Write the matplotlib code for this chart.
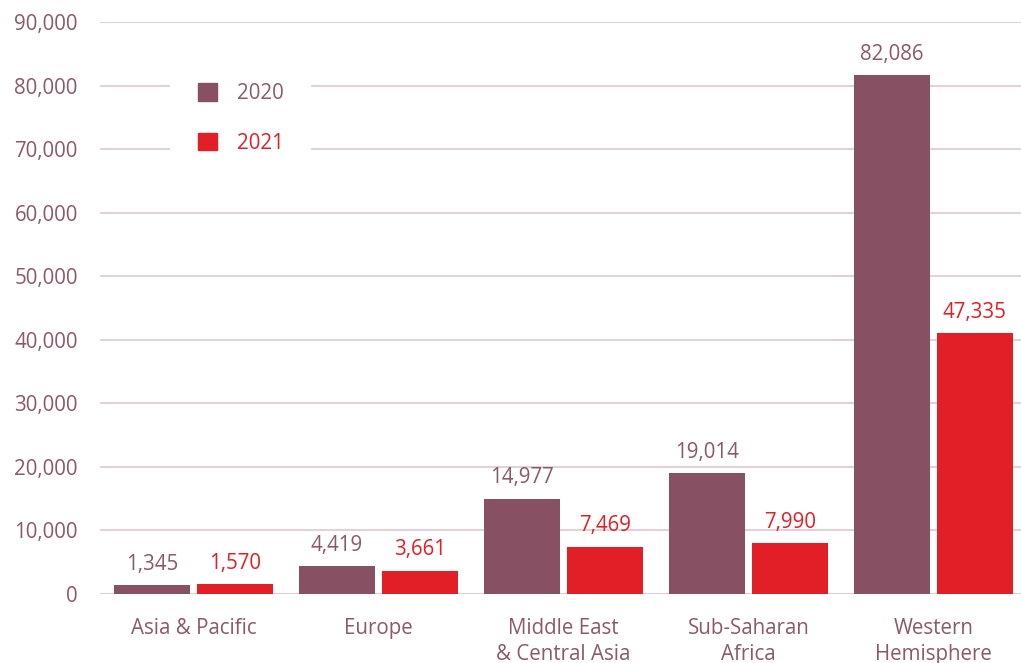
import matplotlib.pyplot as plt
import matplotlib.patches as mpatches
import numpy as np

plt.rcParams['font.family'] = ['Open Sans', 'DejaVu Sans']

regions = ['Asia & Pacific', 'Europe', 'Middle East\n& Central Asia',
           'Sub-Saharan\nAfrica', 'Western\nHemisphere']
labels_2020 = [1345, 4419, 14977, 19014, 82086]
labels_2021 = [1570, 3661, 7469, 7990, 47335]
# bar heights as drawn in the original (the last 2021 bar is shorter than its label)
heights_2020 = [1345, 4419, 14977, 19014, 81700]
heights_2021 = [1570, 3661, 7469, 7990, 41100]
yticks = [0, 10000, 20000, 30000, 40000, 50000, 60000, 70000, 80000, 90000]

c2020 = '#875163'
c2021 = '#e21f26'
txt2020 = '#8b5a6a'
grid_c = '#e0cdd3'

fig = plt.figure(figsize=(10.21, 6.63), dpi=100)
ax = fig.add_axes([100 / 1021, 1 - 594 / 663, 1 - 100 / 1021, (594 - 22.3) / 663])

x = np.arange(len(regions))
off = 0.224
w = 0.41
b1 = ax.bar(x - off, heights_2020, w, color=c2020, zorder=3)
b2 = ax.bar(x + off, heights_2021, w, color=c2021, zorder=3)

for rect, v in zip(b1, labels_2020):
    ax.annotate(f'{v:,}', (rect.get_x() + rect.get_width() / 2, rect.get_height()),
                xytext=(0, 7.5), textcoords='offset points', ha='center', va='bottom',
                fontsize=14.8, color=txt2020)
for rect, v in zip(b2, labels_2021):
    ax.annotate(f'{v:,}', (rect.get_x() + rect.get_width() / 2, rect.get_height()),
                xytext=(0, 7.5), textcoords='offset points', ha='center', va='bottom',
                fontsize=14.8, color=c2021)

ax.set_xlim(-0.505, 4.473)
ax.set_ylim(0, 90000)
ax.set_yticks(yticks)
ax.set_yticklabels([f'{t:,}' for t in yticks])
ax.set_xticks(x)
ax.set_xticklabels(regions, linespacing=1.33)
ax.tick_params(axis='both', length=0, labelsize=14.8, labelcolor=txt2020)
ax.tick_params(axis='y', pad=16)
ax.tick_params(axis='x', pad=17)
for s in ax.spines.values():
    s.set_visible(False)
ax.yaxis.grid(True, color=grid_c, linewidth=1.3, zorder=0)
ax.set_axisbelow(True)
ax.axhline(0, color=grid_c, linewidth=2, zorder=2)

handles = [mpatches.Patch(color=c2020, label='2020'),
           mpatches.Patch(color=c2021, label='2021')]
leg = ax.legend(handles=handles, loc='upper left',
                bbox_to_anchor=(170 / 1021, 1 - 55 / 663), bbox_transform=fig.transFigure,
                fontsize=14.8, frameon=True, facecolor='white', edgecolor='none',
                framealpha=1, fancybox=False, borderpad=1.35, handlelength=0.95,
                handleheight=0.95, handletextpad=0.95, labelspacing=1.4,
                borderaxespad=0, labelcolor=[txt2020, c2021])
leg.set_zorder(5)

fig.savefig('out.png', dpi=100)
